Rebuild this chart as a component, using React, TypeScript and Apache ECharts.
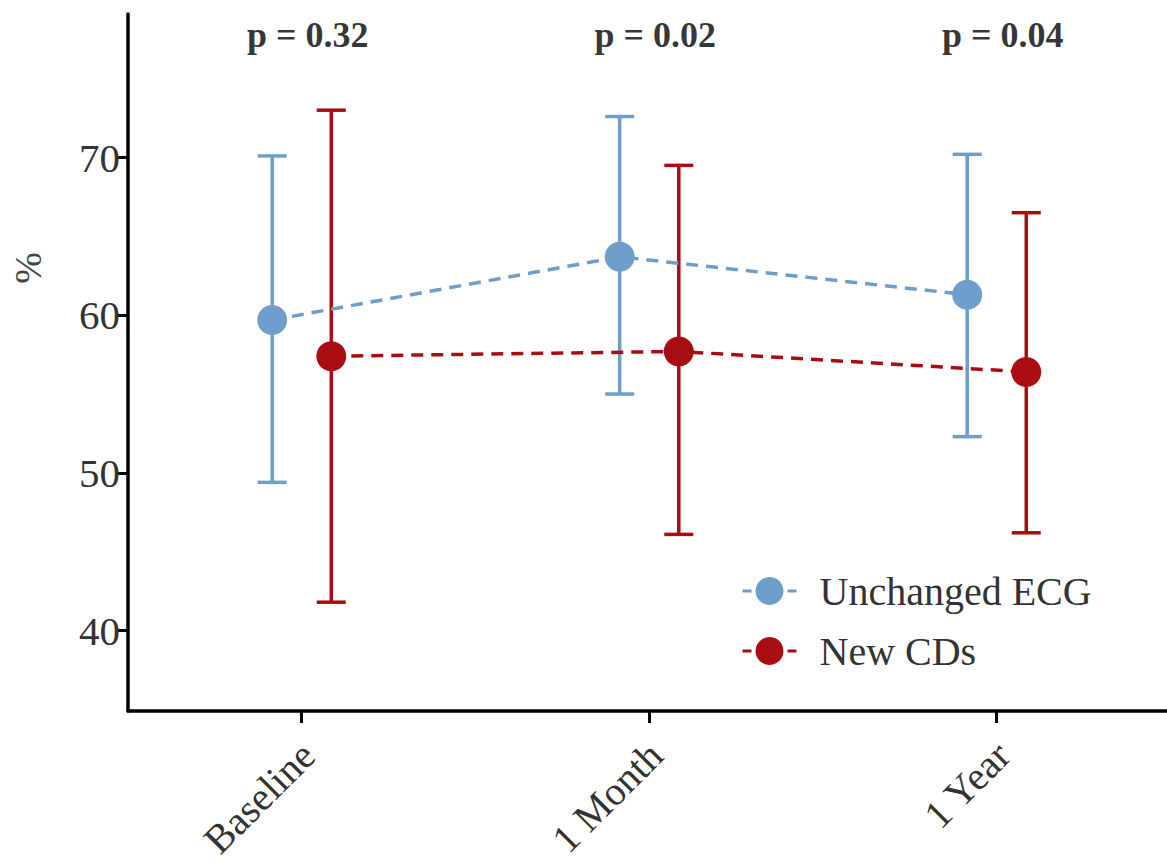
import React, { useEffect, useRef } from "react";
import * as echarts from "echarts";

const categories = ["Baseline", "1 Month", "1 Year"];
const seriesNames = ["Unchanged ECG", "New CDs"];
const unchangedMean = [59.7, 63.7, 61.3];
const unchangedLow = [49.4, 55.0, 52.3];
const unchangedHigh = [70.1, 72.6, 70.2];
const newCdsMean = [57.4, 57.7, 56.4];
const newCdsLow = [41.8, 46.1, 46.2];
const newCdsHigh = [73.0, 69.5, 66.5];
const pValues = ["p = 0.32", "p = 0.02", "p = 0.04"];
const yTicks = [40, 50, 60, 70];

const BLUE = "#6d9ecc";
const RED = "#a90d12";
const FONT = '"Liberation Serif", "Times New Roman", serif';
const DODGE = 0.085;
const P_Y = 77.8;

function errorSeries(name: string, low: number[], high: number[], dodge: number, color: string) {
  return {
    type: "custom",
    name,
    z: 1,
    silent: true,
    data: low.map((l, i) => [i + 1 + dodge, l, high[i]]),
    encode: { x: 0, y: [1, 2] },
    renderItem: (params: any, api: any) => {
      const x = api.value(0);
      const pLo = api.coord([x, api.value(1)]);
      const pHi = api.coord([x, api.value(2)]);
      const w = 14.5;
      const style = { stroke: color, lineWidth: 3.5 };
      return {
        type: "group",
        children: [
          { type: "line", shape: { x1: pLo[0], y1: pLo[1], x2: pHi[0], y2: pHi[1] }, style },
          { type: "line", shape: { x1: pLo[0] - w, y1: pLo[1], x2: pLo[0] + w, y2: pLo[1] }, style },
          { type: "line", shape: { x1: pHi[0] - w, y1: pHi[1], x2: pHi[0] + w, y2: pHi[1] }, style },
        ],
      };
    },
  };
}

function meanSeries(name: string, mean: number[], dodge: number, color: string) {
  return {
    type: "line",
    name,
    z: 3,
    data: mean.map((m, i) => [i + 1 + dodge, m]),
    symbol: "circle",
    symbolSize: 30,
    itemStyle: { color },
    lineStyle: { color, width: 3.5, type: [12, 8] },
    emphasis: { disabled: true },
  };
}

export default function App() {
  const ref = useRef<HTMLDivElement>(null);
  useEffect(() => {
    if (!ref.current) return;
    const chart = echarts.init(ref.current, null, { renderer: "svg" });
    chart.setOption({
      animation: false,
      backgroundColor: "#ffffff",
      textStyle: { fontFamily: FONT },
      grid: { left: 128, top: 14, right: 0, bottom: 153, containLabel: false },
      xAxis: {
        type: "value",
        min: 0.5,
        max: 3.49,
        splitLine: { show: false },
        axisLine: { show: true, lineStyle: { color: "#000", width: 3.5 } },
        axisTick: { show: true, customValues: [1, 2, 3], length: 12, lineStyle: { color: "#000", width: 3 } },
        axisLabel: {
          customValues: [1, 2, 3],
          formatter: (v: number) => categories[Math.round(v) - 1] ?? "",
          rotate: 45,
          align: "right",
          verticalAlign: "top",
          padding: [0, 11, 0, 0],
          margin: 16,
          fontSize: 40,
          fontFamily: FONT,
          color: "#333",
        },
      },
      yAxis: {
        type: "value",
        min: 34.9,
        max: 79.1,
        splitLine: { show: false },
        axisLine: { show: true, lineStyle: { color: "#000", width: 3.5 } },
        axisTick: { show: true, customValues: yTicks, length: 12, lineStyle: { color: "#000", width: 3 } },
        axisLabel: {
          customValues: yTicks,
          margin: 8,
          fontSize: 41,
          fontFamily: FONT,
          color: "#333",
        },
      },
      legend: {
        data: seriesNames,
        orient: "vertical",
        left: 736,
        top: 566,
        itemWidth: 54,
        itemHeight: 35,
        itemGap: 20,
        lineStyle: { type: [9, 6], width: 3 },
        textStyle: { fontSize: 40, fontFamily: FONT, color: "#333", padding: [0, 0, 0, 18] },
        selectedMode: false,
      },
      graphic: [
        {
          type: "text",
          x: 28,
          y: 268,
          rotation: Math.PI / 2,
          style: {
            text: "%",
            fontSize: 38,
            fontFamily: FONT,
            fill: "#444",
            align: "center",
            verticalAlign: "middle",
          },
        },
      ],
      series: [
        errorSeries("err-unchanged", unchangedLow, unchangedHigh, -DODGE, BLUE),
        errorSeries("err-new", newCdsLow, newCdsHigh, DODGE, RED),
        meanSeries(seriesNames[0], unchangedMean, -DODGE, BLUE),
        meanSeries(seriesNames[1], newCdsMean, DODGE, RED),
        {
          type: "scatter",
          name: "p",
          symbolSize: 0,
          silent: true,
          data: pValues.map((p, i) => ({ value: [i + 1, P_Y], name: p })),
          label: {
            show: true,
            position: "inside",
            offset: [6, 0],
            formatter: (p: any) => p.name,
            fontSize: 36,
            fontWeight: "bold",
            fontFamily: FONT,
            color: "#000",
          },
        },
      ],
    });
    return () => chart.dispose();
  }, []);
  return <div ref={ref} style={{ position: "absolute", left: 0, top: 0, width: 1167, height: 864 }} />;
}
